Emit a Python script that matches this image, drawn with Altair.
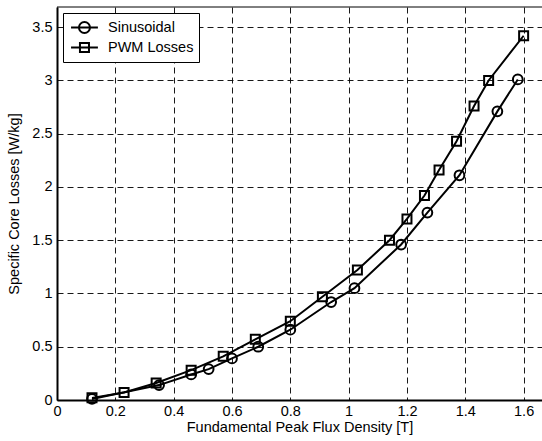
import altair as alt
import pandas as pd

# Sinusoidal excitation
sin_x = [0.12, 0.35, 0.46, 0.52, 0.60, 0.69, 0.80, 0.94, 1.02, 1.18, 1.27, 1.38, 1.51, 1.58]
sin_y = [0.01, 0.14, 0.24, 0.29, 0.39, 0.50, 0.66, 0.92, 1.05, 1.46, 1.76, 2.11, 2.71, 3.01]

# PWM excitation
pwm_x = [0.12, 0.23, 0.34, 0.46, 0.57, 0.68, 0.80, 0.91, 1.03, 1.14, 1.20, 1.26, 1.31, 1.37, 1.43, 1.48, 1.60]
pwm_y = [0.02, 0.07, 0.16, 0.28, 0.41, 0.57, 0.74, 0.97, 1.22, 1.50, 1.70, 1.92, 2.16, 2.43, 2.76, 3.00, 3.42]

series_names = ["Sinusoidal", "PWM Losses"]
x_ticks = [0, 0.2, 0.4, 0.6, 0.8, 1.0, 1.2, 1.4, 1.6]
y_ticks = [0, 0.5, 1, 1.5, 2, 2.5, 3, 3.5]

df = pd.concat([
    pd.DataFrame({"B": sin_x, "P": sin_y, "series": series_names[0]}),
    pd.DataFrame({"B": pwm_x, "P": pwm_y, "series": series_names[1]}),
], ignore_index=True)

FONT = "Liberation Sans"
FS = 14.5
W, H = 485, 393

xs = alt.X("B:Q", scale=alt.Scale(domain=[0, 1.663], nice=False, zero=False),
           axis=alt.Axis(values=x_ticks, title="Fundamental Peak Flux Density [T]",
                         labelExpr="datum.value == 0 ? '0' : format(datum.value, '.1~f')",
                         grid=True, gridDash=[6, 4], gridColor="#000", gridOpacity=0.9,
                         ticks=False, domainColor="#000", domainWidth=2,
                         labelFont=FONT, labelFontSize=FS, labelColor="#000", labelPadding=4,
                         titleFont=FONT, titleFontSize=FS, titleFontWeight="normal",
                         titleColor="#000", titlePadding=3, labelFlush=False))
ys = alt.Y("P:Q", scale=alt.Scale(domain=[0, 3.69], nice=False),
           axis=alt.Axis(values=y_ticks, title="Specific Core Losses [W/kg]",
                         labelExpr="format(datum.value, '.1~f')",
                         grid=True, gridDash=[6, 4], gridColor="#000", gridOpacity=0.9,
                         ticks=False, domainColor="#000", domainWidth=2,
                         labelFont=FONT, labelFontSize=FS, labelColor="#000", labelPadding=5,
                         titleFont=FONT, titleFontSize=FS, titleFontWeight="normal",
                         titleColor="#000", titlePadding=10, labelFlush=False))

base = alt.Chart(df)

lines = base.mark_line(color="#000", strokeWidth=2).encode(
    x=xs, y=ys, detail="series:N")

circles = base.transform_filter(alt.datum.series == series_names[0]).mark_point(
    shape="circle", size=95, filled=False, color="#000", strokeWidth=2, opacity=1
).encode(x=xs, y=ys)

squares = base.transform_filter(alt.datum.series == series_names[1]).mark_point(
    shape="square", size=81, filled=False, color="#000", strokeWidth=2, opacity=1
).encode(x=xs, y=ys)

# legend glyphs: line with marker, drawn wider than the nominal symbol box
circ_path = ("M-0.76,0H2.4M1.47,0A0.65,0.65 0 1 1 0.17,0A0.65,0.65 0 1 1 1.47,0")
sq_path = ("M-0.76,0H2.4M0.29,-0.53H1.35V0.53H0.29Z")

legend_layer = base.transform_filter(alt.datum.P < -100).mark_point(
    filled=False, color="#000", strokeWidth=2, opacity=1
).encode(
    x=xs, y=ys,
    shape=alt.Shape("series:N",
                    scale=alt.Scale(domain=series_names, range=[circ_path, sq_path]),
                    legend=alt.Legend(title=None, orient="top-left", offset=6,
                                      padding=5, strokeColor="#000", fillColor="#fff",
                                      cornerRadius=0, symbolSize=289,
                                      symbolStrokeWidth=2, symbolStrokeColor="#000",
                                      symbolFillColor="transparent",
                                      labelFont=FONT, labelFontSize=FS, labelColor="#000",
                                      labelOffset=21, rowPadding=0, labelLimit=250,
                                      labelExpr="datum.label + '\u00a0\u00a0\u00a0'"))
)

top_border = alt.Chart(pd.DataFrame({"k": [0]})).mark_rule(color="#000", strokeWidth=1).encode(
    x=alt.value(0), x2=alt.value(W), y=alt.value(0))

chart = alt.layer(lines, circles, squares, legend_layer, top_border).properties(
    width=W, height=H,
    autosize=alt.AutoSizeParams(type="none"),
    padding={"left": 57, "top": 7, "right": 0, "bottom": 41},
    background="#fff",
).configure_view(stroke=None)

chart.save("out.html", embed_options={"renderer": "svg", "actions": False})
